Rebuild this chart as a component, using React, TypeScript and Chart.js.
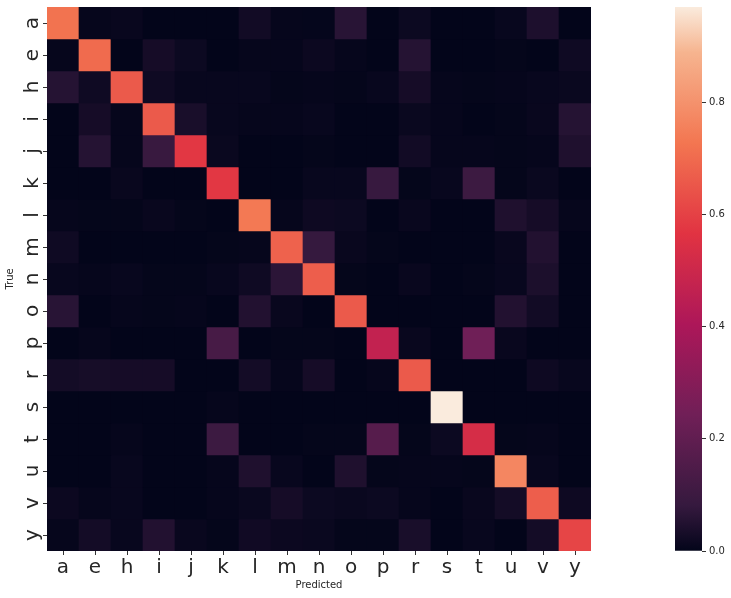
import React, { useEffect, useRef } from "react";
import { Chart, registerables } from "chart.js";

Chart.register(...registerables);

const labels = ["a", "e", "h", "i", "j", "k", "l", "m", "n", "o", "p", "r", "s", "t", "u", "v", "y"];

//               a      e      h      i      j      k      l      m      n      o      p      r      s      t      u      v      y
const rowA = [0.72, 0.005, 0.01, 0.0, 0.0, 0.0, 0.025, 0.005, 0.004, 0.06, 0.0, 0.015, 0.0, 0.0, 0.008, 0.042, 0.0];
const rowE = [0.005, 0.7, 0.0, 0.03, 0.015, 0.0, 0.005, 0.005, 0.014, 0.005, 0.0, 0.055, 0.0, 0.0, 0.003, 0.0, 0.02];
const rowH = [0.055, 0.02, 0.66, 0.02, 0.008, 0.008, 0.008, 0.003, 0.005, 0.003, 0.008, 0.03, 0.005, 0.003, 0.005, 0.008, 0.012];
const rowI = [0.0, 0.03, 0.005, 0.66, 0.035, 0.008, 0.005, 0.005, 0.008, 0.0, 0.0, 0.012, 0.005, 0.0, 0.003, 0.01, 0.055];
const rowJ = [0.0, 0.055, 0.005, 0.09, 0.575, 0.012, 0.0, 0.0, 0.003, 0.0, 0.0, 0.025, 0.005, 0.005, 0.003, 0.005, 0.045];
const rowK = [0.0, 0.0, 0.01, 0.0, 0.0, 0.575, 0.0, 0.0, 0.008, 0.008, 0.085, 0.003, 0.008, 0.1, 0.003, 0.012, 0.0];
const rowL = [0.005, 0.003, 0.003, 0.01, 0.003, 0.0, 0.735, 0.005, 0.018, 0.015, 0.0, 0.01, 0.0, 0.0, 0.045, 0.03, 0.005];
const rowM = [0.02, 0.0, 0.0, 0.0, 0.0, 0.003, 0.005, 0.68, 0.08, 0.01, 0.003, 0.0, 0.0, 0.0, 0.01, 0.05, 0.0];
const rowN = [0.008, 0.005, 0.008, 0.003, 0.003, 0.008, 0.02, 0.065, 0.67, 0.003, 0.0, 0.01, 0.0, 0.003, 0.008, 0.04, 0.0];
const rowO = [0.06, 0.0, 0.005, 0.003, 0.005, 0.0, 0.05, 0.01, 0.0, 0.66, 0.0, 0.0, 0.0, 0.0, 0.05, 0.025, 0.0];
const rowP = [0.0, 0.005, 0.0, 0.0, 0.0, 0.13, 0.0, 0.003, 0.003, 0.0, 0.47, 0.01, 0.0, 0.24, 0.01, 0.0, 0.0];
const rowR = [0.028, 0.032, 0.03, 0.03, 0.0, 0.0, 0.028, 0.005, 0.03, 0.0, 0.005, 0.66, 0.0, 0.0, 0.0, 0.018, 0.008];
const rowS = [0.0, 0.0, 0.0, 0.0, 0.0, 0.005, 0.0, 0.0, 0.0, 0.0, 0.0, 0.0, 0.97, 0.0, 0.0, 0.0, 0.0];
const rowT = [0.0, 0.0, 0.005, 0.0, 0.0, 0.1, 0.0, 0.0, 0.003, 0.003, 0.17, 0.003, 0.015, 0.53, 0.003, 0.005, 0.0];
const rowU = [0.0, 0.0, 0.008, 0.0, 0.0, 0.005, 0.045, 0.008, 0.0, 0.045, 0.003, 0.005, 0.005, 0.003, 0.77, 0.008, 0.0];
const rowV = [0.014, 0.005, 0.008, 0.0, 0.0, 0.005, 0.012, 0.03, 0.015, 0.012, 0.015, 0.005, 0.0, 0.01, 0.028, 0.67, 0.018];
const rowY = [0.005, 0.028, 0.008, 0.05, 0.01, 0.003, 0.022, 0.014, 0.012, 0.003, 0.003, 0.035, 0.0, 0.008, 0.0, 0.028, 0.61];

const matrix = [rowA, rowE, rowH, rowI, rowJ, rowK, rowL, rowM, rowN, rowO, rowP, rowR, rowS, rowT, rowU, rowV, rowY];

const colorbarTicks = [0, 0.2, 0.4, 0.6, 0.8];

const VMAX = Math.max(...matrix.map((r) => Math.max(...r)));

const ROCKET: [number, number[]][] = [
  [0, [3, 5, 26]],
  [0.0833, [53, 25, 62]],
  [0.25, [112, 31, 87]],
  [0.4167, [173, 23, 89]],
  [0.5833, [225, 51, 66]],
  [0.75, [243, 118, 81]],
  [0.9167, [246, 180, 143]],
  [1, [250, 235, 221]],
];

function rocket(t: number): string {
  const x = Math.max(0, Math.min(1, t));
  for (let i = 1; i < ROCKET.length; i++) {
    const [t1, c1] = ROCKET[i];
    const [t0, c0] = ROCKET[i - 1];
    if (x <= t1) {
      const f = (x - t0) / (t1 - t0);
      const c = c0.map((v, k) => Math.round(v + (c1[k] - v) * f));
      return `rgb(${c[0]},${c[1]},${c[2]})`;
    }
  }
  const c = ROCKET[ROCKET.length - 1][1];
  return `rgb(${c[0]},${c[1]},${c[2]})`;
}

const FONT = "'DejaVu Sans', sans-serif";
const TEXT = "#262626";
const TICK = "#333333";

const yLabelPlugin = {
  id: "yLabelPlugin",
  afterDraw(chart: any) {
    const s = chart.scales.y;
    const ctx = chart.ctx;
    ctx.save();
    ctx.font = `20px ${FONT}`;
    ctx.fillStyle = TEXT;
    ctx.textAlign = "center";
    ctx.textBaseline = "alphabetic";
    s.ticks.forEach((t: any) => {
      const y = s.getPixelForValue(t.value);
      ctx.save();
      ctx.translate(37.5, y);
      ctx.rotate(-Math.PI / 2);
      ctx.fillText(labels[Math.floor(t.value)], 0, 0);
      ctx.restore();
    });
    ctx.restore();
  },
};

export default function App() {
  const mainRef = useRef<HTMLCanvasElement>(null);
  const barRef = useRef<HTMLCanvasElement>(null);

  useEffect(() => {
    const main = new Chart(mainRef.current!, {
      type: "bar",
      data: {
        labels,
        datasets: matrix.map((row, r) => ({
          label: labels[r],
          data: row.map(() => 1),
          backgroundColor: row.map((v) => rocket(v / VMAX)),
          borderWidth: 0,
          barPercentage: 1,
          categoryPercentage: 1,
        })),
      },
      options: {
        animation: false,
        responsive: false,
        devicePixelRatio: 1,
        layout: { padding: { left: 0, top: 7, right: 9, bottom: 0 } },
        plugins: { legend: { display: false }, tooltip: { enabled: false } },
        scales: {
          x: {
            type: "category",
            stacked: true,
            offset: true,
            grid: { offset: false, drawOnChartArea: false, drawTicks: true, tickLength: 4, color: TICK },
            border: { display: false },
            ticks: { font: { family: FONT, size: 20 }, color: TEXT, padding: 1, maxRotation: 0, autoSkip: false },
            title: { display: true, text: "Predicted", font: { family: FONT, size: 10 }, color: TEXT, padding: { top: 0, bottom: 7 } },
            afterFit: (s: any) => {
              s.height = 47;
              s.paddingLeft = 0;
              s.paddingRight = 0;
            },
          },
          y: {
            type: "linear",
            stacked: true,
            min: 0,
            max: labels.length,
            reverse: true,
            afterBuildTicks: (s: any) => {
              s.ticks = labels.map((_, i) => ({ value: i + 0.5 }));
            },
            grid: { drawOnChartArea: false, drawTicks: true, tickLength: 4, color: TICK },
            border: { display: false },
            ticks: {
              font: { family: FONT, size: 2 },
              color: "rgba(0,0,0,0)",
              callback: (v: any) => labels[Math.floor(Number(v))],
            },
            title: { display: true, text: "True", font: { family: FONT, size: 10 }, color: TEXT, padding: { top: 4, bottom: 0 } },
            afterFit: (s: any) => {
              s.width = 47;
              s.paddingTop = 0;
              s.paddingBottom = 0;
            },
          },
        },
      },
      plugins: [yLabelPlugin],
    } as any);

    const bar = new Chart(barRef.current!, {
      type: "bar",
      data: {
        labels: [""],
        datasets: [
          {
            data: [VMAX],
            borderWidth: 0,
            barPercentage: 1,
            categoryPercentage: 1,
            backgroundColor: (c: any) => {
              const area = c.chart.chartArea;
              if (!area) return "black";
              const g = c.chart.ctx.createLinearGradient(0, area.bottom, 0, area.top);
              ROCKET.forEach(([t, col]) => g.addColorStop(t, `rgb(${col[0]},${col[1]},${col[2]})`));
              return g;
            },
          },
        ],
      },
      options: {
        animation: false,
        responsive: false,
        devicePixelRatio: 1,
        layout: { padding: { left: 0, top: 7, right: 0, bottom: 47 } },
        plugins: { legend: { display: false }, tooltip: { enabled: false } },
        scales: {
          x: { display: false },
          y: {
            position: "right",
            min: 0,
            max: VMAX,
            afterBuildTicks: (s: any) => {
              s.ticks = colorbarTicks.map((v) => ({ value: v }));
            },
            grid: { drawOnChartArea: false, drawTicks: true, tickLength: 4, color: TICK },
            border: { display: false },
            ticks: {
              font: { family: FONT, size: 10 },
              color: TEXT,
              padding: 3,
              callback: (v: any) => Number(v).toFixed(1),
            },
            afterFit: (s: any) => {
              s.width = 29;
              s.paddingTop = 0;
              s.paddingBottom = 0;
            },
          },
        },
      },
    } as any);

    return () => {
      main.destroy();
      bar.destroy();
    };
  }, []);

  return (
    <div style={{ position: "absolute", left: 0, top: 0, width: 731, height: 598, background: "#fff" }}>
      <canvas ref={mainRef} width={600} height={598} style={{ position: "absolute", left: 0, top: 0 }} />
      <canvas ref={barRef} width={56} height={598} style={{ position: "absolute", left: 675, top: 0 }} />
    </div>
  );
}
